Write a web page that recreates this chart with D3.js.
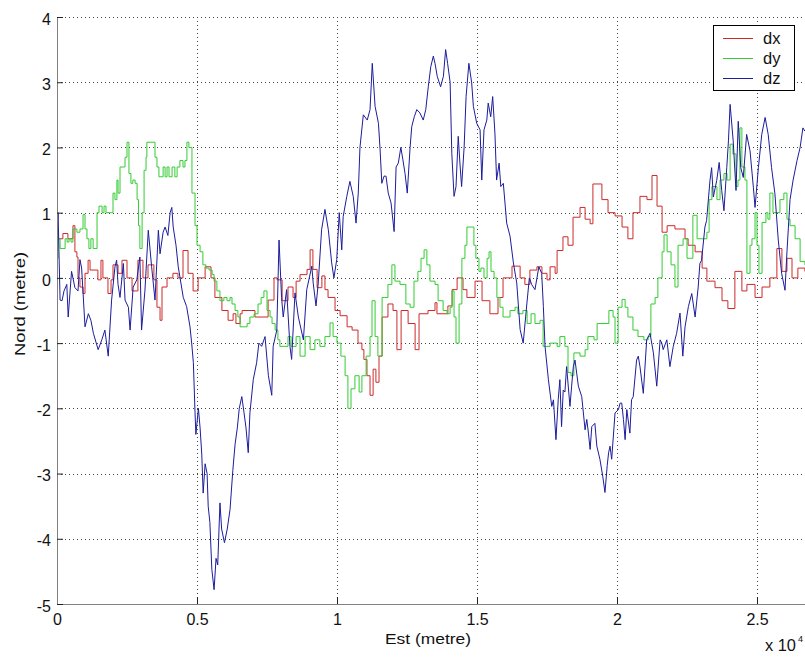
<!DOCTYPE html>
<html><head><meta charset="utf-8">
<script src="https://cdn.jsdelivr.net/npm/d3@7"></script>
<style>
html,body{margin:0;padding:0;background:#fff;}
svg{display:block;font-family:"Liberation Sans",Arial,Helvetica,sans-serif;}
</style></head>
<body>
<svg id="chart" width="805" height="657"></svg>
<script>
// ---- data (x in metres, y in metres) ----
const seriesNames = ["dx", "dy", "dz"];
const seriesColors = ["#cc2a2a", "#33cc33", "#1c1c9c"];
const xTicks = [0, 5000, 10000, 15000, 20000, 25000];
const xTickLabels = ["0", "0.5", "1", "1.5", "2", "2.5"];
const yTicks = [-5, -4, -3, -2, -1, 0, 1, 2, 3, 4];
const yTickLabels = ["-5", "-4", "-3", "-2", "-1", "0", "1", "2", "3", "4"];

const dx = [[0,0.68],[40,0.6],[210,0.68],[390,0.6],[570,0.8],[640,0.4],[710,0.32],[750,0.0],[820,-0.14],[930,-0.24],[1000,0.07],[1110,0.27],[1180,0.12],[1360,0.12],[1460,-0.03],[1570,0.27],[1640,0.0],[1820,-0.24],[1930,-0.03],[2000,0.2],[2180,0.07],[2320,0.27],[2500,0.0],[2680,-0.2],[2890,0.27],[3070,0.0],[3250,0.2],[3460,-0.03],[3570,-0.45],[3680,-0.65],[3750,-0.14],[3930,0.0],[4140,0.07],[4320,0.0],[4500,0.42],[4680,0.07],[4860,-0.2],[5040,0.0],[5290,0.17],[5500,0.0],[5640,-0.3],[5890,-0.5],[6110,-0.65],[6290,-0.55],[6390,-0.7],[6540,-0.55],[6610,-0.5],[7070,-0.6],[7540,-0.34],[7750,0.0],[7860,-0.03],[8040,-0.35],[8250,-0.14],[8430,-0.3],[8540,-0.05],[8680,0.05],[8930,0.13],[9040,0.43],[9140,0.13],[9290,-0.15],[9460,0.03],[9570,-0.18],[9680,-0.3],[9930,-0.5],[10110,-0.58],[10360,-0.75],[10540,-0.8],[10750,-1.0],[10890,-1.1],[10960,-1.25],[11070,-1.5],[11180,-1.8],[11290,-1.4],[11390,-1.6],[11500,-1.2],[11610,-0.6],[11820,-0.4],[12000,-0.5],[12140,-1.1],[12290,-0.5],[12540,-0.7],[12790,-1.1],[12930,-0.55],[13250,-0.5],[13500,-0.38],[13570,-0.55],[13960,-0.43],[14110,-0.18],[14290,0.0],[14500,-0.18],[14640,-0.3],[14930,-0.05],[15180,-0.35],[15460,-0.55],[15750,-0.3],[15930,0.0],[16250,0.18],[16540,0.0],[16710,-0.1],[16890,0.12],[17140,0.17],[17320,0.07],[17500,-0.03],[17610,0.17],[17790,0.07],[17860,0.42],[18070,0.63],[18250,0.5],[18430,0.93],[18680,1.08],[18860,0.9],[19040,0.83],[19140,1.44],[19460,1.2],[19680,1.0],[19930,0.95],[20180,0.78],[20390,0.6],[20570,1.0],[20820,1.25],[21070,1.2],[21250,1.57],[21430,1.1],[21610,0.7],[21790,0.8],[22070,0.75],[22430,0.6],[22540,0.5],[22790,0.4],[23040,0.15],[23210,-0.05],[23500,-0.15],[23750,-0.35],[23960,-0.47],[24210,0.1],[24460,-0.2],[24640,-0.1],[24930,-0.3],[25180,-0.14],[25460,0.0],[25710,0.45],[25890,0.1],[26070,0.3],[26250,0.0],[26460,0.15],[26710,0.1]];

const dy = [[0,0.3],[40,0.6],[110,0.45],[210,0.45],[290,0.6],[360,0.55],[430,0.6],[500,0.55],[570,0.75],[710,0.7],[820,0.75],[930,0.97],[1000,0.75],[1070,0.6],[1140,0.45],[1210,0.6],[1290,0.45],[1360,0.45],[1430,1.0],[1500,1.1],[1610,1.0],[1680,1.1],[1750,1.0],[1960,1.0],[2000,1.3],[2070,1.2],[2140,1.5],[2180,1.3],[2250,1.7],[2360,1.7],[2430,1.85],[2500,2.08],[2570,1.6],[2640,1.45],[2710,1.5],[2790,1.45],[2860,1.2],[2910,0.8],[2960,0.45],[3040,1.0],[3110,1.65],[3180,1.85],[3210,2.08],[3430,2.08],[3500,1.85],[3570,1.7],[3640,1.55],[3750,1.55],[3790,1.7],[3860,1.55],[3930,1.7],[4000,1.55],[4110,1.7],[4210,1.55],[4290,1.7],[4390,1.8],[4500,1.7],[4570,1.8],[4640,2.08],[4710,2.0],[4820,1.3],[4930,0.8],[5000,0.5],[5110,0.4],[5210,0.2],[5320,0.15],[5430,0.12],[5540,0.05],[5610,-0.05],[5710,-0.2],[5820,-0.35],[5960,-0.3],[6070,-0.35],[6180,-0.3],[6250,-0.4],[6360,-0.5],[6460,-0.6],[6540,-0.75],[6710,-0.75],[6790,-0.7],[6890,-0.6],[7040,-0.55],[7180,-0.4],[7290,-0.3],[7390,-0.2],[7500,-0.5],[7610,-0.6],[7680,-0.7],[7790,-0.8],[7890,-0.95],[7960,-1.05],[8140,-1.05],[8250,-0.9],[8360,-1.05],[8540,-0.9],[8680,-1.2],[8860,-0.9],[9040,-1.1],[9210,-0.95],[9390,-1.05],[9570,-0.9],[9750,-0.69],[9860,-0.9],[10000,-1.0],[10140,-1.2],[10290,-1.5],[10390,-2.0],[10500,-1.7],[10640,-1.5],[10790,-1.75],[10890,-1.5],[11040,-1.2],[11180,-0.9],[11250,-0.35],[11360,-0.9],[11460,-1.2],[11610,-0.3],[11710,-0.3],[11820,-0.1],[11960,0.2],[12070,-0.05],[12250,-0.1],[12460,-0.4],[12610,-0.45],[12750,-0.05],[12890,0.1],[13000,0.3],[13110,0.43],[13210,0.2],[13320,-0.05],[13500,-0.1],[13610,-0.35],[13790,-0.5],[13930,-0.55],[14040,-0.45],[14110,-0.2],[14180,-0.6],[14250,-1.0],[14360,-0.4],[14460,0.3],[14570,0.5],[14640,0.78],[14820,0.78],[14890,0.5],[14960,0.3],[15070,0.1],[15140,0.15],[15250,0.0],[15360,0.3],[15430,0.4],[15500,0.1],[15610,0.0],[15710,-0.3],[15820,-0.45],[15930,-0.6],[16070,-0.6],[16180,-0.5],[16360,-0.45],[16460,-0.55],[16640,-0.5],[16790,-0.7],[16930,-0.55],[17070,-0.7],[17250,-0.65],[17360,-1.05],[17610,-1.0],[17860,-1.05],[17960,-0.9],[18140,-1.05],[18250,-1.45],[18360,-1.5],[18460,-1.15],[18680,-1.2],[18860,-1.1],[18960,-0.9],[19180,-0.95],[19290,-0.7],[19570,-0.7],[19710,-0.5],[19860,-0.6],[19930,-1.0],[20040,-0.45],[20180,-0.33],[20290,-0.45],[20390,-0.6],[20570,-0.8],[20750,-0.9],[20960,-0.95],[21110,-0.9],[21210,-0.4],[21360,-0.3],[21460,0.0],[21610,0.4],[21680,0.66],[21790,0.4],[21930,0.2],[22070,-0.14],[22180,0.5],[22360,0.6],[22500,0.3],[22610,0.3],[22710,0.96],[22860,0.6],[23070,0.6],[23210,0.7],[23290,1.2],[23390,1.4],[23570,1.2],[23680,1.5],[23820,1.6],[23930,1.5],[24040,2.05],[24140,1.9],[24250,1.4],[24320,1.5],[24390,2.3],[24460,1.7],[24570,1.5],[24640,0.07],[24750,0.5],[24820,0.6],[24930,1.0],[25000,0.5],[25070,0.07],[25180,0.85],[25320,1.0],[25390,0.9],[25460,1.3],[25570,1.0],[25710,1.0],[25820,1.2],[25960,1.3],[26070,0.9],[26180,0.8],[26360,0.6],[26540,0.25],[26710,0.2]];

const dz = [[0,0.75],[40,1.0],[70,0.4],[110,-0.34],[180,-0.35],[250,-0.2],[350,-0.1],[400,-0.6],[520,0.1],[640,-0.15],[750,-0.2],[820,0.28],[880,0.15],[1000,-0.75],[1120,-0.55],[1210,-0.65],[1300,-0.85],[1470,-1.1],[1600,-0.95],[1710,-0.8],[1830,-1.2],[1950,-0.34],[2070,0.17],[2130,0.27],[2180,-0.1],[2250,-0.3],[2370,0.22],[2430,-0.34],[2550,-0.45],[2610,-0.8],[2720,-0.14],[2850,-0.03],[2960,0.32],[3020,-0.8],[3140,-0.2],[3260,0.73],[3380,0.17],[3500,-0.34],[3620,0.73],[3680,0.37],[3790,0.7],[3860,0.78],[3960,0.65],[4040,1.0],[4100,1.08],[4150,0.78],[4250,0.5],[4330,0.17],[4510,-0.3],[4630,-0.44],[4750,-0.75],[4810,-1.0],[4870,-1.3],[4930,-2.07],[4960,-2.4],[5050,-2.0],[5110,-2.3],[5170,-2.7],[5220,-3.3],[5290,-2.85],[5360,-3.0],[5400,-3.5],[5460,-3.75],[5530,-4.47],[5610,-4.78],[5680,-4.3],[5740,-4.4],[5820,-3.45],[5880,-3.85],[5980,-4.06],[6080,-3.85],[6180,-3.55],[6280,-2.95],[6360,-2.55],[6440,-2.3],[6510,-2.0],[6600,-1.82],[6680,-2.07],[6750,-2.3],[6830,-2.68],[6890,-2.07],[7010,-1.56],[7130,-1.3],[7210,-1.0],[7310,-1.05],[7430,-0.9],[7550,-1.5],[7670,-1.8],[7720,-1.05],[7850,-0.8],[7930,0.58],[8020,-0.3],[8080,-0.6],[8200,-0.18],[8320,-1.05],[8380,-1.25],[8500,-0.23],[8620,-0.6],[8800,-0.95],[8920,-0.18],[9100,0.18],[9150,-0.08],[9250,-0.43],[9330,-0.08],[9450,0.74],[9570,1.05],[9690,0.74],[9810,0.23],[9890,0.0],[9990,0.28],[10080,1.0],[10170,0.43],[10220,0.94],[10350,1.25],[10460,1.48],[10580,1.25],[10680,0.84],[10760,1.3],[10820,2.0],[10940,2.5],[11080,2.42],[11180,2.58],[11260,3.29],[11360,2.63],[11480,2.37],[11540,1.96],[11600,1.45],[11680,1.56],[11750,1.56],[11830,1.3],[11930,1.15],[12040,0.71],[12110,1.7],[12190,1.76],[12280,2.0],[12350,1.82],[12430,1.6],[12510,1.3],[12610,2.0],[12670,2.32],[12760,2.47],[12850,2.58],[12960,2.53],[13080,2.42],[13170,2.58],[13260,2.93],[13350,3.24],[13440,3.4],[13500,3.29],[13580,3.09],[13700,2.93],[13800,3.09],[13880,3.5],[13950,3.29],[14040,3.0],[14100,1.91],[14180,1.25],[14250,1.4],[14330,2.17],[14390,1.76],[14450,1.4],[14540,2.0],[14610,2.78],[14710,3.29],[14810,2.99],[14870,2.63],[14990,2.37],[15110,2.27],[15170,1.5],[15250,2.27],[15350,2.42],[15400,2.68],[15490,2.47],[15560,2.78],[15640,2.22],[15700,1.5],[15790,1.76],[15850,1.4],[15940,1.45],[16060,0.84],[16180,0.64],[16300,0.23],[16420,-0.08],[16540,-0.79],[16650,-1.0],[16780,-0.4],[16870,0.0],[16950,-0.1],[17070,-0.18],[17210,0.17],[17310,0.07],[17370,-0.44],[17430,-1.05],[17550,-1.56],[17670,-1.97],[17730,-1.87],[17820,-2.48],[17900,-1.87],[17960,-1.56],[18020,-2.28],[18080,-1.72],[18140,-1.75],[18200,-1.36],[18320,-1.97],[18380,-1.66],[18440,-1.36],[18500,-1.26],[18560,-1.46],[18620,-1.66],[18740,-1.82],[18860,-2.33],[18920,-2.17],[18980,-2.38],[19040,-2.63],[19100,-2.28],[19210,-2.23],[19280,-2.58],[19390,-2.78],[19490,-3.04],[19570,-3.29],[19650,-2.88],[19700,-2.68],[19750,-2.58],[19810,-2.78],[19930,-2.07],[20050,-2.02],[20110,-1.92],[20170,-1.92],[20230,-2.17],[20290,-2.48],[20350,-2.02],[20460,-2.38],[20520,-1.87],[20580,-1.82],[20700,-1.26],[20760,-1.2],[20820,-1.36],[20940,-1.77],[21060,-0.95],[21180,-0.85],[21300,-1.15],[21420,-1.66],[21540,-0.95],[21600,-1.0],[21650,-1.1],[21780,-0.95],[21890,-1.36],[22010,-1.05],[22130,-0.85],[22250,-0.54],[22350,-1.2],[22430,-0.75],[22550,-0.44],[22670,-0.24],[22790,-0.6],[22900,-0.14],[22960,0.22],[23020,0.27],[23140,0.78],[23200,0.88],[23320,1.49],[23380,1.69],[23440,1.24],[23560,1.49],[23650,1.77],[23740,1.34],[23820,1.03],[23920,1.69],[23980,2.1],[24040,2.66],[24150,2.1],[24250,1.34],[24330,2.4],[24420,1.69],[24510,1.54],[24630,2.2],[24750,1.95],[24870,1.39],[24930,1.08],[25050,1.69],[25170,2.2],[25290,2.46],[25400,2.2],[25520,1.69],[25640,1.29],[25760,0.58],[25880,0.07],[26000,-0.19],[26070,0.4],[26180,1.2],[26290,1.5],[26430,1.8],[26540,2.0],[26640,2.3],[26710,2.25]];

const seriesData = [dx, dy, dz];

// ---- layout ----
const W = 805, H = 657;
const mLeft = 57, mTop = 17, mBottom = 604, mRight = 813;
const FONT = '"Liberation Sans",Arial,sans-serif';
const svg = d3.select("#chart");
svg.append("rect").attr("width", W).attr("height", H).attr("fill", "#fff");

const x = d3.scaleLinear().domain([0, 27000]).range([mLeft, mRight]);
const y = d3.scaleLinear().domain([-5, 4]).range([mBottom, mTop]);

// grid
const grid = svg.append("g").attr("stroke", "#444").attr("stroke-width", 1)
  .attr("stroke-dasharray", "1,3").attr("shape-rendering", "crispEdges");
xTicks.filter(t => t > 0).forEach(t => {
  grid.append("line").attr("x1", Math.round(x(t)) + 0.5).attr("x2", Math.round(x(t)) + 0.5)
    .attr("y1", mTop).attr("y2", mBottom);
});
yTicks.filter(t => t > -5).forEach(t => {
  grid.append("line").attr("y1", Math.round(y(t)) + 0.5).attr("y2", Math.round(y(t)) + 0.5)
    .attr("x1", mLeft).attr("x2", W);
});

// clip
svg.append("clipPath").attr("id", "clip").append("rect")
  .attr("x", mLeft).attr("y", mTop - 2).attr("width", W - mLeft).attr("height", mBottom - mTop + 2);

const plot = svg.append("g").attr("clip-path", "url(#clip)");
const curves = [d3.curveStepAfter, d3.curveStepAfter, d3.curveLinear];
seriesData.forEach((data, i) => {
  const line = d3.line().x(d => x(d[0])).y(d => y(d[1])).curve(curves[i]);
  plot.append("path").datum(data).attr("d", line)
    .attr("fill", "none").attr("stroke", seriesColors[i]).attr("stroke-width", 1);
});

// axes
const xAxis = d3.axisBottom(x).tickValues(xTicks).tickFormat((d, i) => xTickLabels[i])
  .tickSizeInner(-7).tickSizeOuter(0).tickPadding(10);
const gx = svg.append("g").attr("transform", `translate(0,${mBottom})`).call(xAxis);
gx.select(".domain").attr("stroke", "#808080").attr("d", `M${mLeft},0.5H${W}`);
gx.selectAll(".tick line").attr("stroke", "#222");
gx.selectAll(".tick text").attr("font-size", 16).attr("fill", "#111").attr("font-family", FONT);

const yAxis = d3.axisLeft(y).tickValues(yTicks).tickFormat((d, i) => yTickLabels[i])
  .tickSizeInner(-6).tickSizeOuter(0).tickPadding(6);
const gy = svg.append("g").attr("transform", `translate(${mLeft},0)`).call(yAxis);
gy.select(".domain").attr("stroke", "#808080");
gy.selectAll(".tick line").attr("stroke", "#222");
gy.selectAll(".tick text").attr("font-size", 16).attr("fill", "#111").attr("font-family", FONT)
  .attr("dy", "0.45em");

// labels
svg.append("text").attr("x", 428).attr("y", 644).attr("text-anchor", "middle")
  .attr("font-size", 15).attr("fill", "#111")
  .attr("textLength", 86).attr("lengthAdjust", "spacingAndGlyphs").text("Est (metre)");
svg.append("text").attr("transform", "translate(25,304) rotate(-90)").attr("text-anchor", "middle")
  .attr("font-size", 15).attr("fill", "#111")
  .attr("textLength", 104).attr("lengthAdjust", "spacingAndGlyphs").text("Nord (metre)");
svg.append("text").attr("x", 765).attr("y", 651).attr("font-size", 16).attr("fill", "#111")
  .attr("textLength", 31).attr("lengthAdjust", "spacingAndGlyphs").text("x 10");
svg.append("text").attr("x", 798).attr("y", 642).attr("font-size", 9).attr("fill", "#111").text("4");

// legend
const lg = svg.append("g");
lg.append("rect").attr("x", 713.5).attr("y", 25.5).attr("width", 81).attr("height", 65)
  .attr("fill", "#fff").attr("stroke", "#000").attr("stroke-width", 1);
seriesNames.forEach((n, i) => {
  const yy = 38 + i * 20;
  lg.append("line").attr("x1", 723).attr("x2", 753).attr("y1", yy + 0.5).attr("y2", yy + 0.5)
    .attr("stroke", seriesColors[i]).attr("stroke-width", 1);
  lg.append("text").attr("x", 763).attr("y", yy + 5.5).attr("font-size", 16.5).attr("fill", "#111").text(n);
});
</script>
</body></html>
